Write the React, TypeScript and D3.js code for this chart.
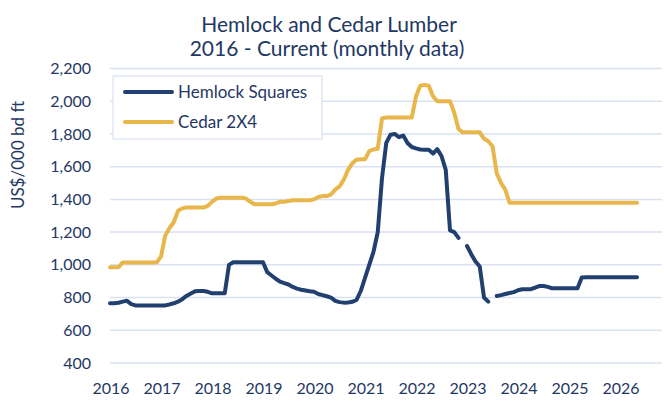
import React from "react";
import * as d3 from "d3";

// monthly, Jan 2016 .. May 2026
const startYear = 2016;
const yearLabels = ["2016", "2017", "2018", "2019", "2020", "2021", "2022", "2023", "2024", "2025", "2026"];
const yTicks = [400, 600, 800, 1000, 1200, 1400, 1600, 1800, 2000, 2200];
const seriesNames = ["Hemlock Squares", "Cedar 2X4"];

const hemlock: (number | null)[] = [
  765, 765, 768, 775, 780, 760, 752,
  752, 752, 752, 752, 752, 752, 752,
  758, 765, 775, 790, 810, 825, 838, 840, 840, 835, 826, 826, 826, 826, 1000, 1016,
  1016, 1016, 1016, 1016, 1016, 1016, 1016,
  955, 935, 915, 897, 888, 880, 865, 855, 848, 843, 838, 835, 822, 815, 808, 800,
  780, 772, 769, 770, 774, 785, 840, 920, 1000, 1080, 1200, 1530, 1745, 1795, 1800,
  1780, 1790, 1745, 1720, 1712, 1705, 1703, 1703, 1680, 1707, 1665, 1580, 1210, 1200,
  1165, null, 1115, 1065, 1020, 990, 800, 775, null, 810, 815, 822, 828, 833, 845,
  851, 851, 851, 860, 870, 871, 865, 857,
  857, 857, 857, 857, 857, 857,
  922,
  924, 924, 924, 924, 924, 924, 924, 924, 924, 924, 924, 924, 924,
];

const cedar: number[] = [
  985, 985, 985,
  1015, 1015, 1015, 1015, 1015, 1015, 1015, 1015, 1015,
  1050, 1180, 1225, 1260, 1330, 1345,
  1350, 1350, 1350, 1350, 1350,
  1360, 1385, 1405,
  1410, 1410, 1410, 1410, 1410, 1410,
  1405, 1385,
  1370, 1370, 1370, 1370, 1370, 1375,
  1385, 1385, 1390,
  1395, 1395, 1395, 1395, 1395, 1400,
  1415, 1420, 1420, 1430, 1460, 1480, 1520, 1580, 1620, 1642, 1645, 1645, 1695, 1705, 1710, 1895,
  1900, 1900, 1900, 1900, 1900, 1900, 1900,
  2030, 2095, 2100, 2095, 2030,
  2000, 2000, 2000, 2000,
  1930, 1830,
  1810, 1810, 1810, 1810, 1810,
  1770, 1755, 1725, 1560, 1500, 1460,
  1380, 1380, 1380, 1380, 1380, 1380, 1380, 1380, 1380, 1380, 1380, 1380, 1380, 1380, 1380, 1380,
  1380, 1380, 1380, 1380, 1380, 1380, 1380, 1380, 1380, 1380, 1380, 1380, 1380, 1380, 1380,
];

const navy = "#22406f";
const gold = "#e8b64a";
const textColor = "#1f3864";
const gridColor = "#d9e1f2";
const font = "Lato, 'Open Sans', sans-serif";

export default function App() {
  const width = 664;
  const height = 401;
  const plotLeft = 110;
  const plotRight = 662;

  const xScale = d3.scaleLinear().domain([0, 120]).range([110, 620]);
  const yScale = d3.scaleLinear().domain([400, 2200]).range([363, 68.5]);

  const line = d3
    .line<number | null>()
    .defined((d) => d != null)
    .x((_, i) => xScale(i))
    .y((d) => yScale(d as number));

  return (
    <svg
      width={width}
      height={height}
      style={{ position: "absolute", left: 0, top: 0, background: "#fff" }}
      fontFamily={font}
    >
      <text x={329} y={32} textAnchor="middle" fontSize={21} fill={textColor}>
        Hemlock and Cedar Lumber
      </text>
      <text x={327} y={56} textAnchor="middle" fontSize={21} fill={textColor}>
        {`${startYear} - Current (monthly data)`}
      </text>

      {/* grid + y ticks */}
      {yTicks.map((t) => (
        <g key={t}>
          <line
            x1={plotLeft}
            x2={plotRight}
            y1={yScale(t)}
            y2={yScale(t)}
            stroke={gridColor}
            strokeWidth={1.5}
          />
          <text
            x={91}
            y={yScale(t)}
            dy="0.35em"
            textAnchor="end"
            fontSize={16}
            fill={textColor}
          >
            {d3.format(",")(t)}
          </text>
        </g>
      ))}

      {/* x labels */}
      {yearLabels.map((lab, i) => (
        <text
          key={lab}
          x={xScale(i * 12) + 1}
          y={394}
          textAnchor="middle"
          fontSize={16}
          fill={textColor}
        >
          {lab}
        </text>
      ))}

      <text
        transform={`translate(24, 155) rotate(-90)`}
        textAnchor="middle"
        fontSize={17}
        fill={textColor}
      >
        US$/000 bd ft
      </text>

      <path
        d={line(cedar) ?? ""}
        fill="none"
        stroke={gold}
        strokeWidth={4}
        strokeLinejoin="round"
        strokeLinecap="round"
      />
      <path
        d={line(hemlock) ?? ""}
        fill="none"
        stroke={navy}
        strokeWidth={4}
        strokeLinejoin="round"
        strokeLinecap="round"
      />

      {/* legend */}
      <g>
        <rect x={113} y={76} width={209} height={63} fill="#fff" stroke={gridColor} strokeWidth={1.2} />
        {seriesNames.map((name, i) => (
          <g key={name} transform={`translate(0, ${92 + i * 30})`}>
            <line
              x1={125}
              x2={172}
              y1={0}
              y2={0}
              stroke={i === 0 ? navy : gold}
              strokeWidth={4}
              strokeLinecap="round"
            />
            <text x={178} y={0} dy="0.35em" fontSize={17} fill={textColor}>
              {name}
            </text>
          </g>
        ))}
      </g>
    </svg>
  );
}
